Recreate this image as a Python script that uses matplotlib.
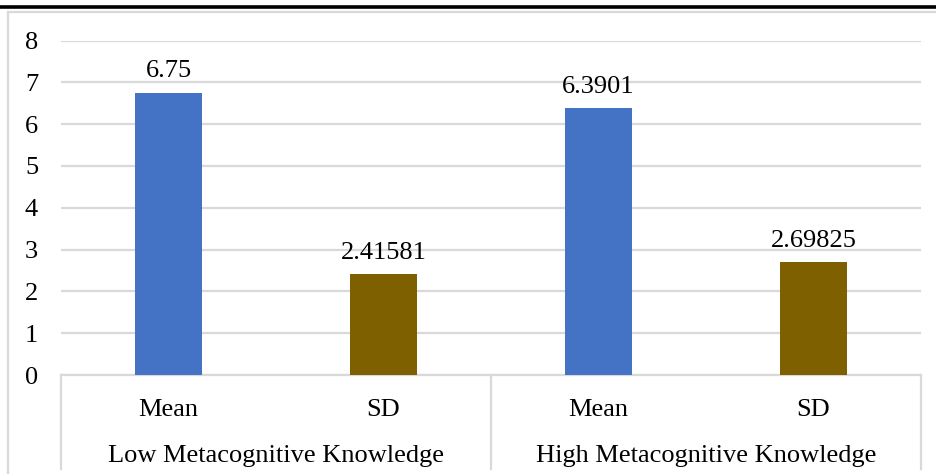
import matplotlib.pyplot as plt
import matplotlib.transforms as mtransforms
from matplotlib.lines import Line2D

plt.rcParams['font.family'] = ['Liberation Serif', 'DejaVu Serif']

groups = ['Low Metacognitive Knowledge', 'High Metacognitive Knowledge']
stats = ['Mean', 'SD']
values = [6.75, 2.41581, 6.3901, 2.69825]
value_labels = ['6.75', '2.41581', '6.3901', '2.69825']
colors = {'Mean': '#4472C4', 'SD': '#7F6000'}
yticks = [0, 1, 2, 3, 4, 5, 6, 7, 8]

W, H = 936, 474
fig = plt.figure(figsize=(W / 100, H / 100), dpi=100)
ax = fig.add_axes([61 / W, (H - 375) / H, (921 - 61) / W, (375 - 40.5) / H])

n = len(groups) * len(stats)
xs = list(range(n))
bar_colors = [colors[stats[i % len(stats)]] for i in xs]
bars = ax.bar(xs, values, width=0.31, color=bar_colors, zorder=3)

for x, v, lab in zip(xs, values, value_labels):
    ax.annotate(lab, (x, v), xytext=(0, 11), textcoords='offset points',
                ha='center', va='baseline', fontsize=19)

ax.set_xlim(-0.5, n - 0.5)
ax.set_ylim(0, 8)
ax.set_yticks(yticks)
ax.set_yticklabels([str(t) for t in yticks], fontsize=19)
ax.tick_params(axis='y', length=0, pad=16.5)
ax.grid(axis='y', color='#d9d9d9', linewidth=1.6, zorder=0)
for s in ['top', 'right', 'left']:
    ax.spines[s].set_visible(False)
ax.spines['bottom'].set_color('#d9d9d9')
ax.spines['bottom'].set_linewidth(1.6)

ax.set_xticks(xs)
ax.set_xticklabels([stats[i % len(stats)] for i in xs], fontsize=19)
ax.tick_params(axis='x', length=0, pad=17)

# group labels and separators below the axis
trans = mtransforms.blended_transform_factory(ax.transData, fig.transFigure)
for g, name in enumerate(groups):
    cx = g * len(stats) + (len(stats) - 1) / 2
    ax.text(cx, 1 - 456 / H, name, transform=trans, ha='center', va='center',
            fontsize=19, clip_on=False)
for g in range(len(groups) + 1):
    sx = g * len(stats) - 0.5
    ax.add_line(Line2D([sx, sx], [1 - 375 / H, 1 - 469 / H], transform=trans,
                       color='#d9d9d9', linewidth=1.6, clip_on=False))

# chart border and top rule
fig.add_artist(Line2D([8 / W, 8 / W], [0, 1 - 12 / H], color='#d9d9d9', linewidth=1.6))
fig.add_artist(Line2D([8 / W, 1], [1 - 12 / H, 1 - 12 / H], color='#d9d9d9', linewidth=1.6))
fig.add_artist(Line2D([0, 1], [1 - 6.5 / H, 1 - 6.5 / H], color='black', linewidth=2.6))

fig.savefig('out.png', dpi=100)
